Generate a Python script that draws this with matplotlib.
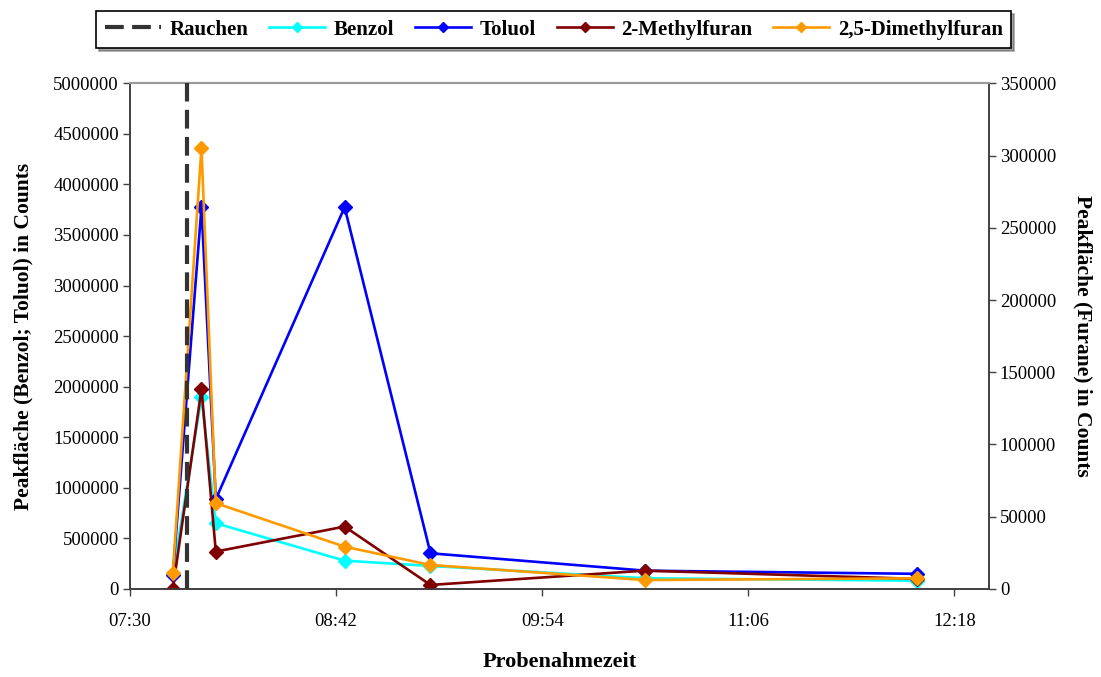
import numpy as np
import matplotlib
matplotlib.use("Agg")
import matplotlib.pyplot as plt
from matplotlib.ticker import FuncFormatter, MultipleLocator

plt.rcParams['font.family'] = ['Liberation Serif', 'DejaVu Serif']

# Probenahmezeiten
zeiten = ["07:45", "07:55", "08:00", "08:45", "09:15", "10:30", "12:05"]
rauchen = "07:50"

# Peakflaechen (linke Achse)
benzol = [150000, 1900000, 650000, 280000, 228000, 106000, 82000]
toluol = [140000, 3775000, 888000, 3775000, 353000, 181000, 150000]

# Peakflaechen Furane (rechte Achse)
methylfuran = [0, 138400, 25900, 43200, 2800, 12700, 7000]
dimethylfuran = [11300, 305400, 59400, 29300, 16600, 6200, 7400]

x_ticks = ["07:30", "08:42", "09:54", "11:06", "12:18"]


def minuten(t):
    h, m = t.split(":")
    return int(h) * 60 + int(m)


def hhmm(v, pos=None):
    v = int(round(v))
    return "%02d:%02d" % (v // 60, v % 60)


x = np.array([minuten(t) for t in zeiten])

fig = plt.figure(figsize=(11.01, 6.77), dpi=100)
ax = fig.add_axes([0.118, 0.130, 0.780, 0.747])
ax2 = ax.twinx()

lw, ms = 1.9, 7
l_b, = ax.plot(x, benzol, color='#00FFFF', lw=lw, marker='D', ms=ms, label='Benzol')
l_t, = ax.plot(x, toluol, color='#0000FF', lw=lw, marker='D', ms=ms, label='Toluol')
l_m, = ax2.plot(x, methylfuran, color='#800000', lw=lw, marker='D', ms=ms, label='2-Methylfuran')
l_d, = ax2.plot(x, dimethylfuran, color='#FF9900', lw=lw, marker='D', ms=ms, label='2,5-Dimethylfuran')
l_r = ax2.axvline(minuten(rauchen), color='#333333', lw=3, dashes=(4.5, 2), zorder=5, label='Rauchen')

ax.set_xlim(minuten("07:30"), minuten("12:30"))
ax.set_xticks([minuten(t) for t in x_ticks])
ax.xaxis.set_major_formatter(FuncFormatter(hhmm))

ax.set_ylim(0, 5000000)
ax.yaxis.set_major_locator(MultipleLocator(500000))
ax.yaxis.set_major_formatter(FuncFormatter(lambda v, p: "%d" % v))
ax2.set_ylim(0, 350000)
ax2.yaxis.set_major_locator(MultipleLocator(50000))
ax2.yaxis.set_major_formatter(FuncFormatter(lambda v, p: "%d" % v))

for a in (ax, ax2):
    a.tick_params(direction='out', length=5, width=1, colors='#404040', labelsize=13.5, labelcolor='black')
    for s in ('left', 'right', 'bottom'):
        a.spines[s].set_color('#404040')
        a.spines[s].set_linewidth(1.2)
    a.spines['top'].set_color('#999999')
    a.spines['top'].set_linewidth(1.5)

ax.tick_params(axis='x', pad=12)
ax.tick_params(axis='y', pad=3)
ax2.tick_params(axis='y', pad=3)
ax.set_xlabel("Probenahmezeit", fontsize=16, fontweight='bold', labelpad=16)
ax.set_ylabel("Peakfläche (Benzol; Toluol) in Counts", fontsize=15.5, fontweight='bold', labelpad=14)
ax2.set_ylabel("Peakfläche (Furane) in Counts", fontsize=15.5, fontweight='bold', rotation=270, labelpad=26)

leg = fig.legend(handles=[l_r, l_b, l_t, l_m, l_d], loc='center', bbox_to_anchor=(0.503, 0.956),
                 ncol=5, frameon=True, fancybox=False, shadow=True, edgecolor='black',
                 prop={'weight': 'bold', 'size': 15}, handlelength=2.7, columnspacing=1.0,
                 handletextpad=0.4, borderpad=0.4, markerscale=0.8)
leg.get_frame().set_linewidth(1.2)

fig.savefig("out.png", dpi=100)
